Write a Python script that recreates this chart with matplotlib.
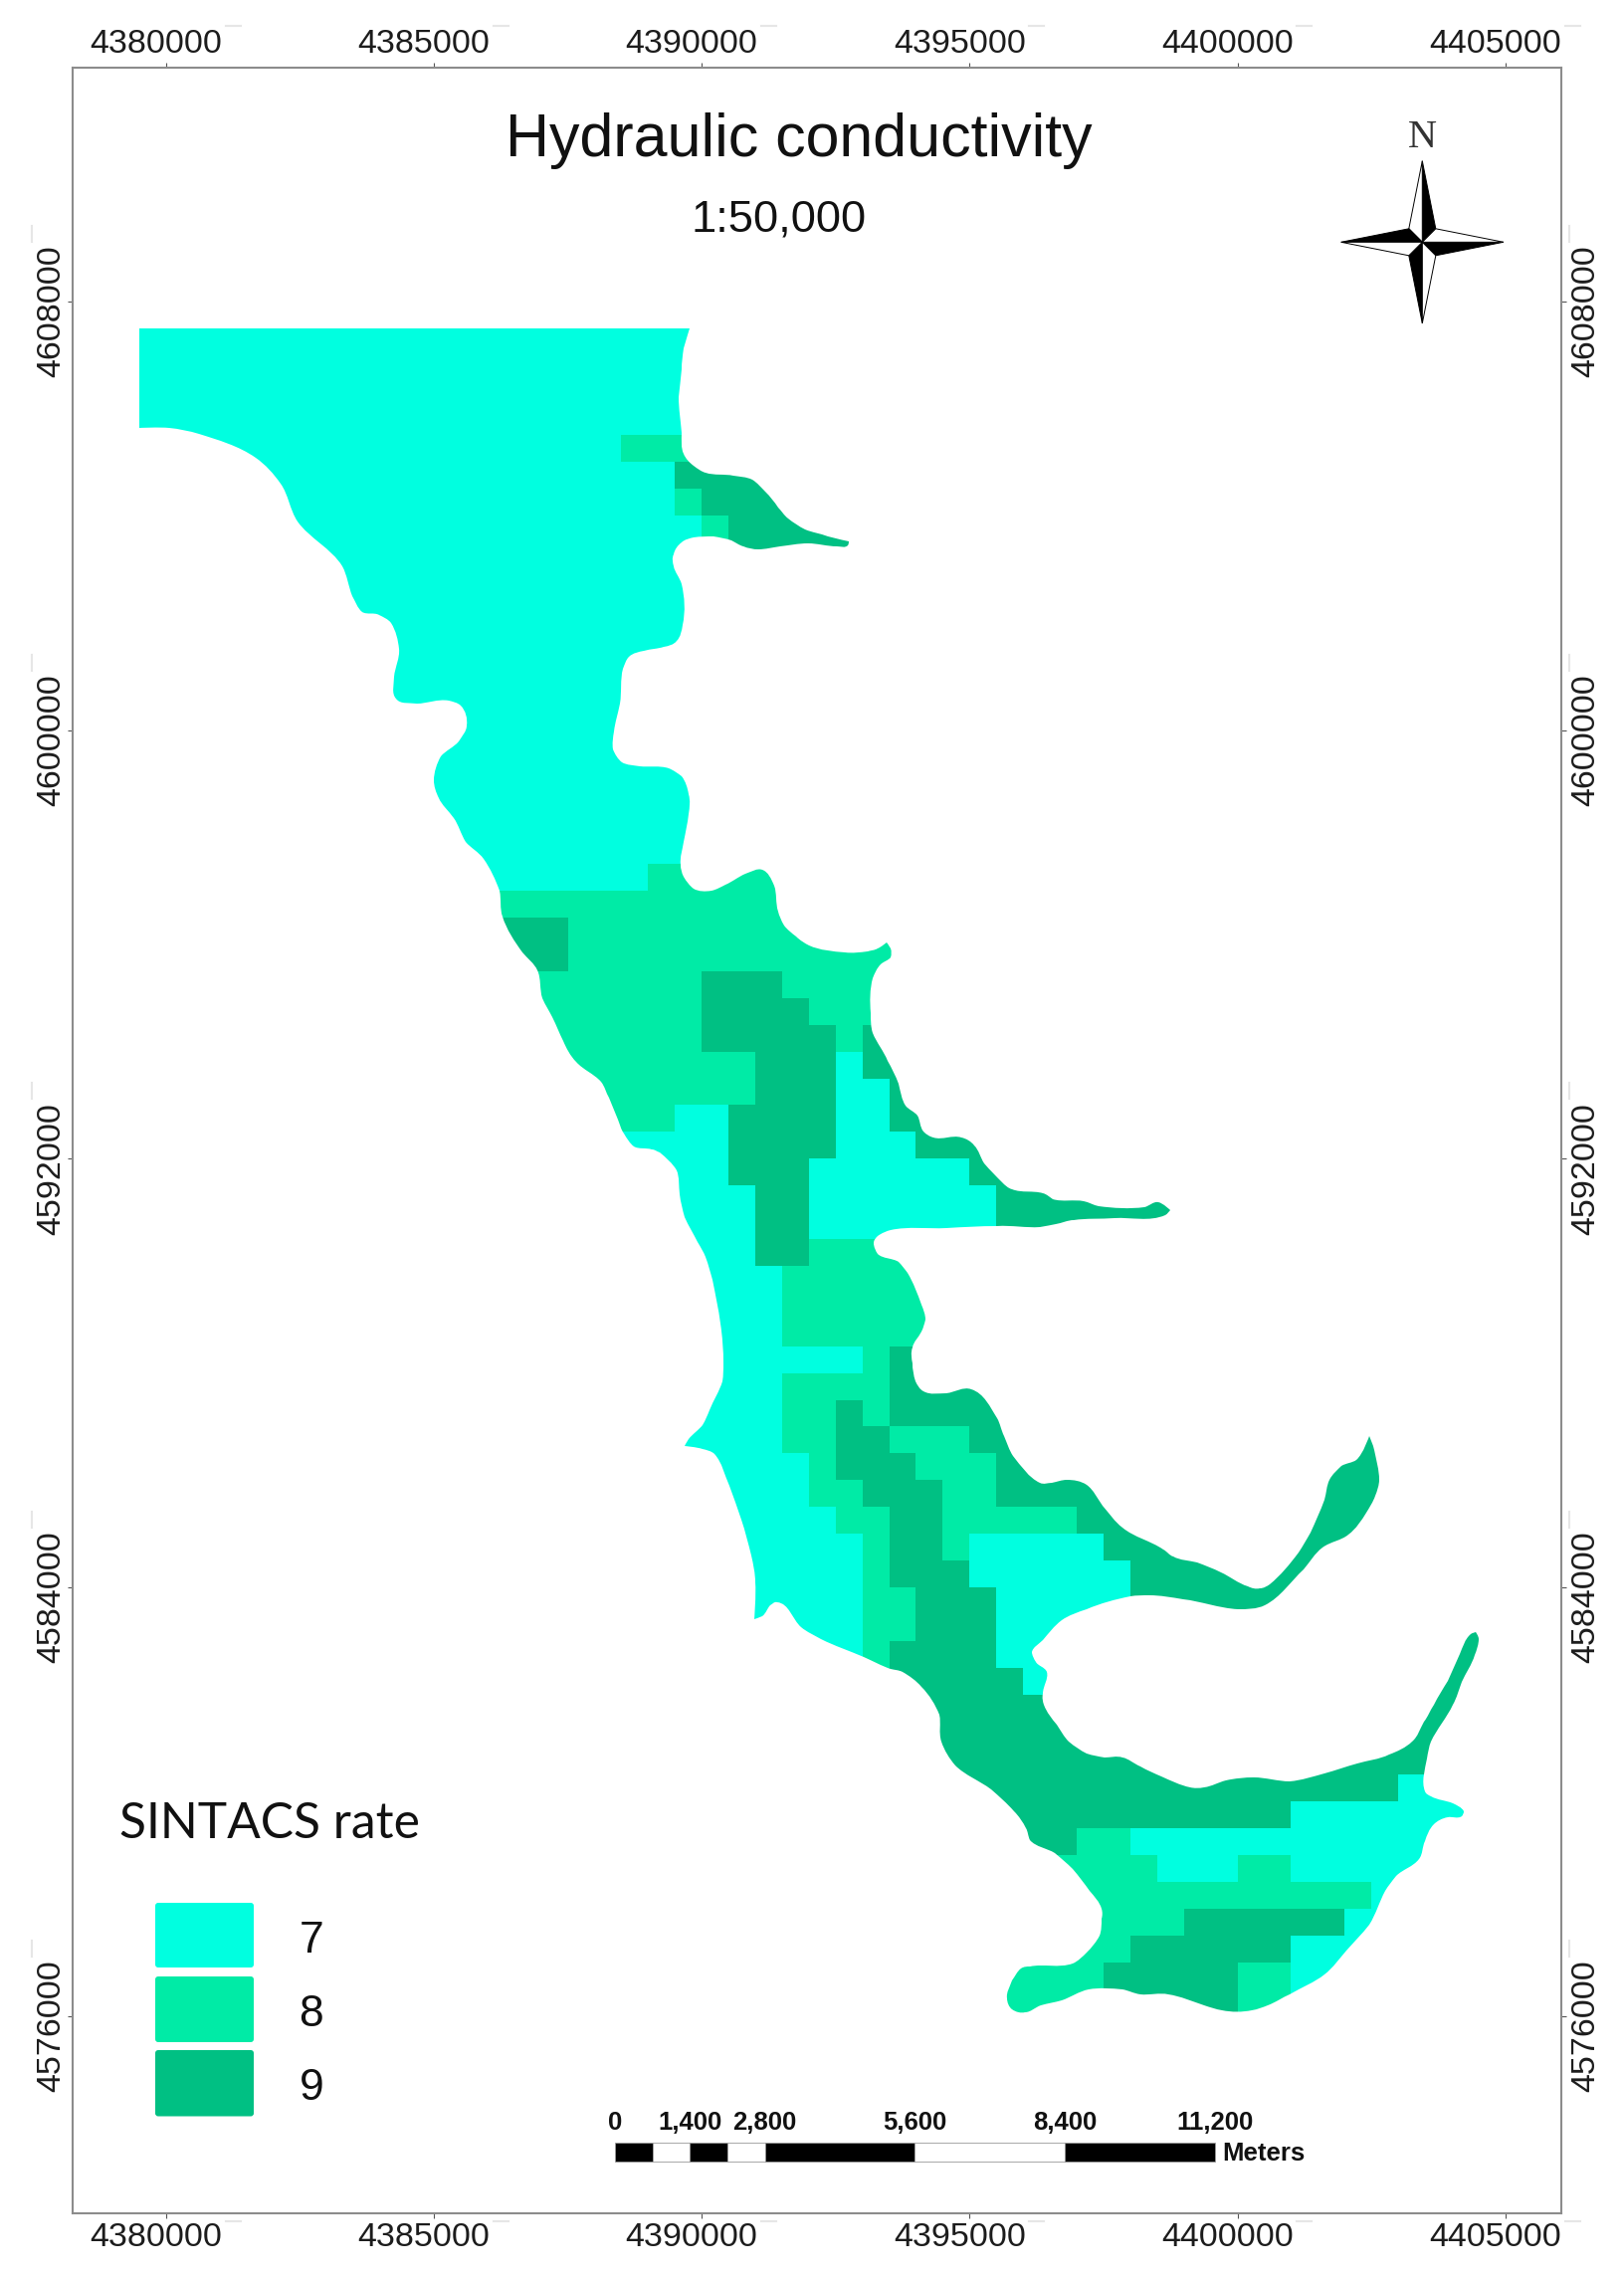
import numpy as np
import matplotlib
matplotlib.use("Agg")
import matplotlib.pyplot as plt
from matplotlib.colors import ListedColormap
from matplotlib.patches import PathPatch, Polygon, Rectangle, FancyBboxPatch
from matplotlib.path import Path
from matplotlib.transforms import ScaledTranslation

W, H, DPI = 1633, 2288, 100
TITLE = "Hydraulic conductivity"
SCALE_TEXT = "1:50,000"
LEGEND_TITLE = "SINTACS rate"
CLASSES = [7, 8, 9]
CLASS_COLORS = ["#00FFE0", "#00EBA6", "#00C083"]
X_TICKS = [4380000, 4385000, 4390000, 4395000, 4400000, 4405000]
Y_TICKS = [4576000, 4584000, 4592000, 4600000, 4608000]
SCALE_BREAKS = [0, 700, 1400, 2100, 2800, 5600, 8400, 11200]
SCALE_LABELS = {0: "0", 1400: "1,400", 2800: "2,800", 5600: "5,600", 8400: "8,400", 11200: "11,200"}

E0_KM = 4380.0
# raster rows: north top, north bottom (km), spans as (class, east limit in km after 4380 km)
raster_rows = [
    (4608, 4605.5, [(7, 26)]),
    (4605.5, 4605, [(7, 8.5), (8, 26)]),
    (4605, 4604.5, [(7, 9.5), (9, 26)]),
    (4604.5, 4604, [(7, 9.5), (8, 10), (9, 26)]),
    (4604, 4603.5, [(7, 10), (8, 10.5), (9, 26)]),
    (4603.5, 4603, [(7, 10.5), (9, 26)]),
    (4603, 4597.5, [(7, 26)]),
    (4597.5, 4597, [(7, 9), (8, 26)]),
    (4597, 4596.5, [(8, 26)]),
    (4596.5, 4595.5, [(9, 7.5), (8, 26)]),
    (4595.5, 4595, [(8, 10), (9, 11.5), (8, 26)]),
    (4595, 4594.5, [(8, 10), (9, 12), (8, 26)]),
    (4594.5, 4594, [(8, 10), (9, 12.5), (8, 13), (9, 26)]),
    (4594, 4593.5, [(8, 11), (9, 12.5), (7, 13), (9, 26)]),
    (4593.5, 4593, [(8, 11), (9, 12.5), (7, 13.5), (9, 26)]),
    (4593, 4592.5, [(8, 9.5), (7, 10.5), (9, 12.5), (7, 13.5), (9, 26)]),
    (4592.5, 4592, [(7, 10.5), (9, 12.5), (7, 14), (9, 26)]),
    (4592, 4591.5, [(7, 10.5), (9, 12), (7, 15), (9, 26)]),
    (4591.5, 4590.5, [(7, 11), (9, 12), (7, 15.5), (9, 26)]),
    (4590.5, 4590, [(7, 11), (9, 12), (8, 26)]),
    (4590, 4588.5, [(7, 11.5), (8, 26)]),
    (4588.5, 4588, [(7, 13), (8, 13.5), (9, 26)]),
    (4588, 4587.5, [(7, 11.5), (8, 13.5), (9, 26)]),
    (4587.5, 4587, [(7, 11.5), (8, 12.5), (9, 13), (8, 13.5), (9, 26)]),
    (4587, 4586.5, [(7, 11.5), (8, 12.5), (9, 13.5), (8, 15), (9, 26)]),
    (4586.5, 4586, [(7, 12), (8, 12.5), (9, 14), (8, 15.5), (9, 26)]),
    (4586, 4585.5, [(7, 12), (8, 13), (9, 14.5), (8, 15.5), (9, 26)]),
    (4585.5, 4585, [(7, 12.5), (8, 13.5), (9, 14.5), (8, 17), (9, 26)]),
    (4585, 4584.5, [(7, 13), (8, 13.5), (9, 14.5), (8, 15), (7, 17.5), (9, 26)]),
    (4584.5, 4584, [(7, 13), (8, 13.5), (9, 15), (7, 18), (9, 26)]),
    (4584, 4583, [(7, 13), (8, 14), (9, 15.5), (7, 18), (9, 26)]),
    (4583, 4582.5, [(7, 13), (8, 13.5), (9, 15.5), (7, 18), (9, 26)]),
    (4582.5, 4582, [(9, 16), (7, 18), (9, 26)]),
    (4582, 4580.5, [(9, 26)]),
    (4580.5, 4580, [(9, 23), (7, 26)]),
    (4580, 4579.5, [(9, 21), (7, 26)]),
    (4579.5, 4579, [(9, 17), (8, 18), (7, 26)]),
    (4579, 4578.5, [(8, 18.5), (7, 20), (8, 21), (7, 26)]),
    (4578.5, 4578, [(8, 22.5), (7, 26)]),
    (4578, 4577.5, [(8, 19), (9, 22), (7, 26)]),
    (4577.5, 4577, [(8, 18), (9, 21), (7, 26)]),
    (4577, 4576, [(8, 17.5), (9, 20), (8, 21), (7, 26)]),
]

outline_north_part = [
    (-0.5, 4607.5), (9.78, 4607.5), (9.67, 4607.13), (9.62, 4606.73), (9.58, 4606.21), (9.62, 4605.55),
    (9.67, 4605.15), (9.85, 4604.93), (10.08, 4604.8), (10.59, 4604.75), (10.94, 4604.67), (11.19, 4604.45),
    (11.43, 4604.16), (11.61, 4603.95), (11.93, 4603.75), (12.35, 4603.62), (12.74, 4603.52), (12.72, 4603.44),
    (12.53, 4603.42), (11.98, 4603.48), (11.47, 4603.42), (11.05, 4603.37), (10.78, 4603.42), (10.55, 4603.53),
    (10.22, 4603.61), (9.85, 4603.59), (9.62, 4603.5), (9.47, 4603.28), (9.47, 4603.06), (9.62, 4602.73),
    (9.65, 4601.96), (9.53, 4601.66), (9.3, 4601.55), (8.93, 4601.48), (8.65, 4601.37), (8.54, 4601.15),
    (8.47, 4600.49), (8.36, 4599.97), (8.35, 4599.64), (8.51, 4599.4), (8.84, 4599.33), (9.39, 4599.28),
    (9.62, 4599.13), (9.76, 4598.8), (9.76, 4598.43), (9.67, 4597.92), (9.6, 4597.48), (9.67, 4597.26),
    (9.85, 4597.04), (10.18, 4597.0), (10.45, 4597.11), (10.82, 4597.32), (11.13, 4597.4),
]
outline_middle_part = [
    (11.35, 4597.1), (11.42, 4596.62), (11.54, 4596.36), (11.77, 4596.14), (12.01, 4595.98), (12.67, 4595.85),
    (13.1, 4595.87), (13.29, 4595.92), (13.45, 4596.03), (13.53, 4595.92), (13.53, 4595.76), (13.34, 4595.63),
    (13.2, 4595.37), (13.15, 4594.71), (13.2, 4594.35), (13.48, 4593.83), (13.67, 4593.39), (13.81, 4592.99),
    (14.02, 4592.8), (14.14, 4592.51), (14.33, 4592.39), (14.85, 4592.4), (15.09, 4592.25), (15.28, 4591.92),
    (15.61, 4591.56), (15.8, 4591.42), (16.37, 4591.36), (16.56, 4591.25), (17.13, 4591.2), (17.41, 4591.12),
    (18.27, 4591.1), (18.53, 4591.19), (18.74, 4591.04), (18.65, 4590.95), (17.7, 4590.89), (16.94, 4590.86),
    (16.61, 4590.78), (16.32, 4590.73), (15.52, 4590.75), (14.57, 4590.71), (13.53, 4590.66), (13.29, 4590.56),
    (13.21, 4590.42), (13.29, 4590.23), (13.67, 4590.07), (13.84, 4589.87), (14.1, 4589.28), (14.17, 4588.99),
    (14.1, 4588.77), (13.93, 4588.47), (13.93, 4588.18), (14.0, 4587.85), (14.14, 4587.65), (14.57, 4587.63),
    (15.04, 4587.7), (15.51, 4587.16), (15.64, 4586.82), (15.82, 4586.45), (16.32, 4585.95), (16.54, 4585.95),
    (16.82, 4586.01), (17.18, 4585.92), (17.49, 4585.52), (17.85, 4585.11), (18.62, 4584.71), (18.8, 4584.57),
    (19.25, 4584.46), (19.7, 4584.28), (20.19, 4584.01), (20.42, 4583.98), (20.6, 4584.06), (21.14, 4584.65),
    (21.36, 4585.02), (21.63, 4585.64), (21.72, 4586.01), (21.95, 4586.26), (22.22, 4586.38), (22.47, 4586.82),
    (22.55, 4586.57), (22.64, 4586.01), (22.58, 4585.7), (22.4, 4585.39), (22.08, 4584.99), (21.59, 4584.74),
    (21.23, 4584.34), (20.51, 4583.67), (20.01, 4583.6), (18.98, 4583.78), (18.35, 4583.85), (18.0, 4583.83),
    (17.18, 4583.6), (16.72, 4583.38), (16.36, 4583.01), (16.17, 4582.79), (16.23, 4582.61), (16.44, 4582.42),
    (16.36, 4582.02),
]
outline_south_part = [
    (16.39, 4581.8), (16.62, 4581.43), (16.86, 4581.12), (17.19, 4580.9), (17.52, 4580.83), (17.85, 4580.83),
    (18.18, 4580.65), (18.58, 4580.47), (19.11, 4580.27), (19.38, 4580.27), (19.78, 4580.39), (20.31, 4580.46),
    (20.97, 4580.38), (21.63, 4580.53), (22.23, 4580.72), (22.83, 4580.87), (23.26, 4581.12), (23.49, 4581.49),
    (23.66, 4581.8), (23.92, 4582.26), (24.15, 4582.76), (24.35, 4583.13), (24.45, 4583.16), (24.5, 4583.04),
    (24.43, 4582.73), (24.19, 4582.23), (24.02, 4581.8), (23.62, 4581.12), (23.54, 4580.81), (23.5, 4580.19),
    (23.62, 4580.09), (24.02, 4579.97), (24.22, 4579.82), (24.19, 4579.73), (23.92, 4579.71), (23.66, 4579.57),
    (23.5, 4579.26), (23.39, 4578.92), (22.96, 4578.61), (22.76, 4578.33), (22.46, 4577.71), (22.03, 4577.22),
    (21.63, 4576.78), (20.97, 4576.41), (20.57, 4576.2), (20.27, 4576.1), (19.71, 4576.1), (19.38, 4576.2),
    (18.71, 4576.41), (18.18, 4576.41), (17.85, 4576.49), (17.22, 4576.5), (16.72, 4576.29), (16.33, 4576.2),
    (16.03, 4576.06), (15.8, 4576.12), (15.7, 4576.32), (15.8, 4576.66), (15.96, 4576.88), (16.13, 4576.93),
    (16.92, 4576.98), (17.19, 4577.19), (17.42, 4577.5), (17.47, 4577.81), (17.47, 4578.0), (17.25, 4578.33),
    (16.92, 4578.74), (16.59, 4579.04), (16.13, 4579.29), (16.06, 4579.51), (15.83, 4579.82), (15.4, 4580.22),
    (14.73, 4580.68),
]
outline_west_part = [
    (14.47, 4581.12), (14.43, 4581.62), (14.11, 4582.14), (13.75, 4582.42), (13.53, 4582.48), (13.03, 4582.7),
    (12.22, 4583.04), (11.86, 4583.26), (11.41, 4583.73), (11.28, 4583.66), (11.14, 4583.47), (10.98, 4583.41),
    (11.01, 4584.09), (10.92, 4584.59), (10.74, 4585.27), (10.51, 4585.89), (10.24, 4586.48), (10.02, 4586.58),
    (9.68, 4586.63), (9.75, 4586.76), (10.02, 4587.03), (10.15, 4587.31), (10.38, 4587.84), (10.4, 4588.18),
    (10.35, 4588.92), (10.2, 4589.73), (10.07, 4590.16), (9.93, 4590.45), (9.69, 4590.9), (9.59, 4591.34),
    (9.53, 4591.78), (9.21, 4592.11), (9.07, 4592.18), (8.74, 4592.23), (8.55, 4592.47), (8.43, 4592.73),
    (8.27, 4593.13), (8.12, 4593.43), (7.65, 4593.8), (7.41, 4594.2), (7.22, 4594.64), (7.03, 4595.0),
    (6.94, 4595.52), (6.66, 4595.85), (6.28, 4596.51), (6.22, 4597.0), (5.93, 4597.59), (5.6, 4597.92),
    (5.37, 4598.36), (5.09, 4598.73), (5.0, 4599.06), (5.14, 4599.5), (5.46, 4599.79), (5.62, 4600.08),
    (5.51, 4600.45), (5.28, 4600.55), (4.68, 4600.5), (4.29, 4600.58), (4.26, 4601.0), (4.35, 4601.52),
    (4.2, 4601.99), (3.98, 4602.15), (3.66, 4602.21), (3.48, 4602.5), (3.29, 4603.06), (2.46, 4603.9),
    (2.14, 4604.6), (1.68, 4605.08), (0.61, 4605.52), (0.06, 4605.63), (-0.5, 4605.63),
]

CELL_KM = 0.5
east_edges_km = np.arange(-1.0, 26.0 + CELL_KM, CELL_KM)
north_edges_km = np.arange(4576.0, 4608.0 + CELL_KM, CELL_KM)

raster = np.full((len(north_edges_km) - 1, len(east_edges_km) - 1), 7.0)
east_mid = (east_edges_km[:-1] + east_edges_km[1:]) / 2
north_mid = (north_edges_km[:-1] + north_edges_km[1:]) / 2
for top, bottom, spans in raster_rows:
    r = (north_mid < top) & (north_mid > bottom)
    start = -1.0
    for cls, end in spans:
        c = (east_mid > start) & (east_mid < end)
        raster[np.ix_(r, c)] = cls
        start = end

outline = np.array(outline_north_part + outline_middle_part + outline_south_part + outline_west_part)
outline_xy = np.column_stack([(outline[:, 0] + E0_KM) * 1000, outline[:, 1] * 1000])


def smooth_path(pts, sharp_deg=75.0):
    """Closed Bezier path through the traced vertices; sharp corners stay sharp."""
    n = len(pts)
    tang = np.zeros_like(pts)
    for i in range(n):
        a, b, c = pts[i - 1], pts[i], pts[(i + 1) % n]
        u, v = b - a, c - b
        cosang = np.dot(u, v) / (np.linalg.norm(u) * np.linalg.norm(v))
        if np.degrees(np.arccos(np.clip(cosang, -1, 1))) < sharp_deg:
            d = u / np.linalg.norm(u) + v / np.linalg.norm(v)
            tang[i] = d / np.linalg.norm(d)
    verts, codes = [pts[0]], [Path.MOVETO]
    for i in range(n):
        p, q = pts[i], pts[(i + 1) % n]
        s = np.linalg.norm(q - p) / 3
        verts += [p + tang[i] * s, q - tang[(i + 1) % n] * s, q]
        codes += [Path.CURVE4] * 3
    return Path(np.array(verts), codes, closed=False)


fig = plt.figure(figsize=(W / DPI, H / DPI), dpi=DPI, facecolor="white")
L, T, R, B = 73.0, 67.5, 1568.7, 2224.0
ax = fig.add_axes([L / W, 1 - B / H, (R - L) / W, (B - T) / H])

PX_PER_M = 0.05384
ax.set_xlim(4380000 + (L - 166.7) / PX_PER_M, 4380000 + (R - 166.7) / PX_PER_M)
ax.set_ylim(4576000 + (2025.7 - B) / PX_PER_M, 4576000 + (2025.7 - T) / PX_PER_M)

cmap = ListedColormap(CLASS_COLORS)
mesh = ax.pcolormesh((east_edges_km + E0_KM) * 1000, north_edges_km * 1000, raster,
                     cmap=cmap, vmin=6.5, vmax=9.5, shading="flat", antialiased=False, zorder=1)
clip = PathPatch(smooth_path(outline_xy), transform=ax.transData, facecolor="none", edgecolor="none")
ax.add_patch(clip)
mesh.set_clip_path(clip)

FRAME = "#8c8c8c"
for s in ax.spines.values():
    s.set_color(FRAME)
    s.set_linewidth(1.5)

TICK_FONT = dict(family="Liberation Sans", size=24.5, color="#1c1c1c")
ax.set_xticks(X_TICKS)
ax.set_yticks(Y_TICKS)
ax.set_xticklabels([str(v) for v in X_TICKS], **TICK_FONT)
ax.set_yticklabels([str(v) for v in Y_TICKS], rotation=90, va="center", **TICK_FONT)
ax.tick_params(axis="both", which="major", top=True, right=True, bottom=True, left=True,
               labeltop=True, labelright=True, labelbottom=True, labelleft=True,
               length=3.5, width=0.8, color="#555555", pad=0)
for tick in ax.yaxis.get_major_ticks():
    for lab in (tick.label1, tick.label2):
        lab.set_rotation(90)
        lab.set_rotation_mode("default")
        lab.set_verticalalignment("center")
        lab.set_family("Liberation Sans")
        lab.set_fontsize(24.5)
        lab.set_color("#1c1c1c")


def px(dx, dy):
    return ScaledTranslation(dx / DPI, -dy / DPI, fig.dpi_scale_trans)


for tick in ax.xaxis.get_major_ticks():
    for lab in (tick.label1, tick.label2):
        lab.set_family("Liberation Sans")
        lab.set_fontsize(24.5)
        lab.set_color("#1c1c1c")
    tick.label1.set_transform(tick.label1.get_transform() + px(-10, 4))
    tick.label2.set_transform(tick.label2.get_transform() + px(-10, -3))
for tick in ax.yaxis.get_major_ticks():
    tick.label1.set_transform(tick.label1.get_transform() + px(-1, 10))
    tick.label2.set_transform(tick.label2.get_transform() + px(5, 10))

# scale bar in map coordinates
BAR_X0 = 4388380
BAR_Y_TOP, BAR_Y_BOTTOM = 4573630, 4573280
for i in range(len(SCALE_BREAKS) - 1):
    x0, x1 = BAR_X0 + SCALE_BREAKS[i], BAR_X0 + SCALE_BREAKS[i + 1]
    ax.add_patch(Rectangle((x0, BAR_Y_BOTTOM), x1 - x0, BAR_Y_TOP - BAR_Y_BOTTOM,
                           facecolor="black" if i % 2 == 0 else "white",
                           edgecolor="#9a9a9a", linewidth=0.6, zorder=3))
for d, lab in SCALE_LABELS.items():
    ax.text(BAR_X0 + d, 4574005, lab, ha="center", va="center", family="Liberation Sans",
            weight="bold", fontsize=18.5, color="#111111", zorder=4)
ax.text(BAR_X0 + 11200 + 130, 4573425, "Meters", ha="left", va="center", family="Liberation Sans",
        weight="bold", fontsize=18.5, color="#111111", zorder=4)

# page overlay in pixel units for layout items
ov = fig.add_axes([0, 0, 1, 1], facecolor="none")
ov.set_xlim(0, W)
ov.set_ylim(H, 0)
ov.axis("off")

ov.text(803, 141, TITLE, ha="center", va="center", family="Liberation Sans", fontsize=43.8, color="#111111")
ov.text(783, 221, SCALE_TEXT, ha="center", va="center", family="Liberation Sans", fontsize=32.6, color="#111111")

# legend
ov.text(120.5, 1833, LEGEND_TITLE, ha="left", va="center", family="Lato", fontsize=35.8, color="#111111")
legend_boxes = [(1912, 1977), (1986, 2052), (2060, 2126.5)]
legend_text_y = [1950, 2024, 2099]
for cls, col, (y0, y1), ty in zip(CLASSES, CLASS_COLORS, legend_boxes, legend_text_y):
    ov.add_patch(FancyBboxPatch((158, y0 + 2), 95, y1 - y0 - 4, boxstyle="round,pad=2,rounding_size=3",
                                facecolor=col, edgecolor="none"))
    ov.text(312.8, ty, str(cls), ha="center", va="center", family="Liberation Sans", fontsize=32, color="#111111")

# north arrow
NX, NY = 1429.3, 243.3
TIP, IN = 81.6, 13.5
arrow = [
    ((0, -TIP), (IN, -IN), "black"), ((0, -TIP), (-IN, -IN), "white"),
    ((TIP, 0), (IN, IN), "black"), ((TIP, 0), (IN, -IN), "white"),
    ((0, TIP), (-IN, IN), "black"), ((0, TIP), (IN, IN), "white"),
    ((-TIP, 0), (-IN, -IN), "black"), ((-TIP, 0), (-IN, IN), "white"),
]
for a, b, col in arrow:
    ov.add_patch(Polygon([(NX, NY), (NX + a[0], NY + a[1]), (NX + b[0], NY + b[1])], closed=True,
                         facecolor=col, edgecolor="black", linewidth=0.7, joinstyle="miter"))
ov.text(1429, 138, "N", ha="center", va="center", family="Liberation Serif", fontsize=29, color="#333333")

# faint grey dashes beside the tick labels
DASH = "#e6e6e6"
for v in X_TICKS:
    xp = 166.7 + (v - 4380000) * PX_PER_M
    ov.plot([xp + 60, xp + 75], [26, 26], color=DASH, lw=1.5)
    ov.plot([xp + 60, xp + 75], [2232, 2232], color=DASH, lw=1.5)
for v in Y_TICKS:
    yp = 2025.7 - (v - 4576000) * PX_PER_M
    ov.plot([32, 32], [yp - 76, yp - 60], color=DASH, lw=1.5)
    ov.plot([1577, 1577], [yp - 76, yp - 60], color=DASH, lw=1.5)

fig.savefig("out.png", dpi=DPI, facecolor="white")
